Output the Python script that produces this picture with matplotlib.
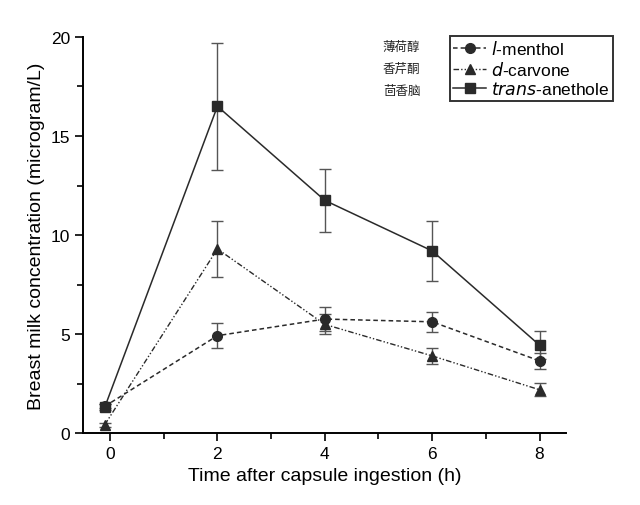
import numpy as np
import matplotlib.pyplot as plt
from matplotlib.ticker import MultipleLocator

plt.rcParams['font.family'] = ['Liberation Sans', 'DejaVu Sans']

time_h = [-0.1, 2, 4, 6, 8]

menthol = [1.35, 4.92, 5.76, 5.62, 3.65]
menthol_err = [0.1, 0.62, 0.6, 0.52, 0.42]

carvone = [0.42, 9.3, 5.49, 3.9, 2.19]
carvone_err = [0.1, 1.4, 0.5, 0.4, 0.32]

anethole = [1.3, 16.5, 11.75, 9.2, 4.44]
anethole_err = [0.15, 3.2, 1.6, 1.5, 0.72]

labels = ['$\\it{l}$-menthol', '$\\it{d}$-carvone', '$\\it{trans}$-anethole']
cn_labels = ['薄荷醇', '香芹酮', '茴香脑']

fig, ax = plt.subplots(figsize=(6.4, 5.06), dpi=100)
fig.subplots_adjust(left=0.13, right=0.885, top=0.925, bottom=0.142)

line_col = '#2a2a2a'
err_col = '#555555'

e1 = ax.errorbar(time_h, menthol, yerr=menthol_err, color=line_col, ecolor=err_col,
                 ls=(0, (3, 2)), lw=1.1, marker='o', ms=7, capsize=4, elinewidth=1)
e2 = ax.errorbar(time_h, carvone, yerr=carvone_err, color=line_col, ecolor=err_col,
                 ls=(0, (4, 1.5, 1, 1.5, 1, 1.5)), lw=1.0, marker='^', ms=7.5,
                 capsize=4, elinewidth=1)
e3 = ax.errorbar(time_h, anethole, yerr=anethole_err, color=line_col, ecolor=err_col,
                 ls='-', lw=1.1, marker='s', ms=7, capsize=4, elinewidth=1)

ax.set_xlim(-0.5, 8.5)
ax.set_ylim(0, 20)
ax.xaxis.set_major_locator(MultipleLocator(2))
ax.xaxis.set_minor_locator(MultipleLocator(1))
ax.yaxis.set_major_locator(MultipleLocator(5))
ax.yaxis.set_minor_locator(MultipleLocator(2.5))
ax.tick_params(which='both', direction='out', width=1.2, labelsize=12.5)
ax.tick_params(which='major', length=6)
ax.tick_params(which='minor', length=4)
for s in ['top', 'right']:
    ax.spines[s].set_visible(False)
for s in ['left', 'bottom']:
    ax.spines[s].set_linewidth(1.4)

ax.set_xlabel('Time after capsule ingestion (h)', fontsize=14)
ax.set_ylabel('Breast milk concentration (microgram/L)', fontsize=14)

leg = ax.legend([e1[0], e2[0], e3[0]], labels, loc='upper right',
                bbox_to_anchor=(1.097, 1.003), fontsize=12.5,
                frameon=True, fancybox=False, edgecolor='#333333',
                handlelength=1.9, borderpad=0.2, labelspacing=0.15,
                handletextpad=0.3, borderaxespad=0)
leg.get_frame().set_linewidth(1.4)
leg.get_frame().set_alpha(None)

for i, t in enumerate(cn_labels):
    ax.text(0.62, 0.975 - i * 0.0556, t, transform=ax.transAxes,
            fontsize=9, family=['Noto Sans CJK SC', 'DejaVu Sans'],
            ha='left', va='center', color='#222222')

plt.savefig('out.png')
